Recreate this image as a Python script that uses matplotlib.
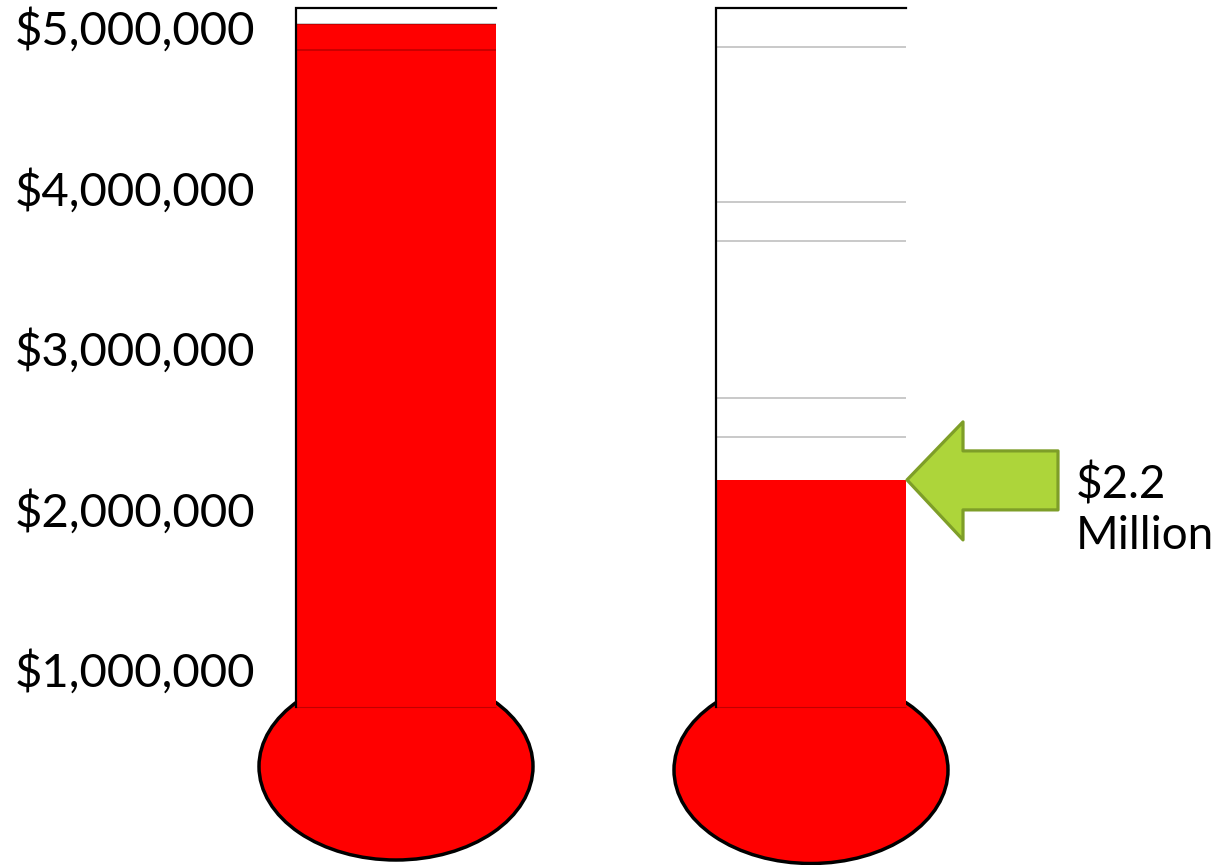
import matplotlib.pyplot as plt
from matplotlib.patches import Ellipse, Polygon

# nilai-nilai termometer (dalam dolar)
tick_values = [1000000, 2000000, 3000000, 4000000, 5000000]
tick_labels = ["$1,000,000", "$2,000,000", "$3,000,000", "$4,000,000", "$5,000,000"]
goal_fill = 5040000      # termometer kiri (target)
raised_fill = 2200000    # termometer kanan (terkumpul)
raised_label = "$2.2\nMillion"
tube_top = 5140000
tube_bottom = 785000
left_grid = [5040000, 4880000]
right_grid = [4900000, 3930000, 3690000, 2710000, 2470000]

px = 160.5 / 1e6  # piksel per dolar

fig = plt.figure(figsize=(12.22, 8.65), dpi=100)
ax = fig.add_axes([0, 0, 1, 1])
ax.set_xlim(0, 1222)
ax.set_ylim((833 - 865) / px, 833 / px)
ax.axis("off")

plt.rcParams["font.family"] = ["Lato", "DejaVu Sans"]

# label sumbu y
for v, t in zip(tick_values, tick_labels):
    ax.text(15, v, t, fontsize=34, va="center", ha="left", family=["Lato", "DejaVu Sans"])

tubes = [(396, 200, goal_fill, left_grid, 766.5), (811, 190, raised_fill, right_grid, 770)]
for cx, w, fill, grid, bulb_y in tubes:
    # bola bawah
    bulb = Ellipse((cx, (833 - bulb_y) / px), 274, 187 / px, facecolor="#FF0000",
                   edgecolor="black", lw=2.5, zorder=1)
    ax.add_patch(bulb)
    # batang merah
    ax.bar(cx, fill - tube_bottom, bottom=tube_bottom, width=w, color="#FF0000",
           edgecolor="none", zorder=2)
    ax.hlines(tube_bottom, cx - w / 2, cx + w / 2, color="#C00000", lw=0.8, zorder=3)
    # garis grid
    ax.hlines(grid, cx - w / 2, cx + w / 2, color="black", alpha=0.25, lw=1.2, zorder=3)
    # garis tepi tabung (kiri dan atas)
    ax.plot([cx - w / 2, cx - w / 2, cx + w / 2], [tube_bottom, tube_top, tube_top],
            color="black", lw=1.6, zorder=4, solid_joinstyle="miter")

# panah hijau
tip_x = 907
arrow_px = [(0, 0), (56, 58), (56, 29), (151, 29), (151, -30), (56, -30), (56, -60)]
pts = [(tip_x + dx, raised_fill + dy / px) for dx, dy in arrow_px]
ax.add_patch(Polygon(pts, closed=True, facecolor="#ADD53A", edgecolor="#7E9E28",
                     lw=2.3, joinstyle="round", zorder=5))

ax.text(1076, raised_fill - 30 / px, raised_label, fontsize=33, va="center", ha="left",
        linespacing=1.25, family=["Lato", "DejaVu Sans"])

plt.savefig("out.png", dpi=100)
